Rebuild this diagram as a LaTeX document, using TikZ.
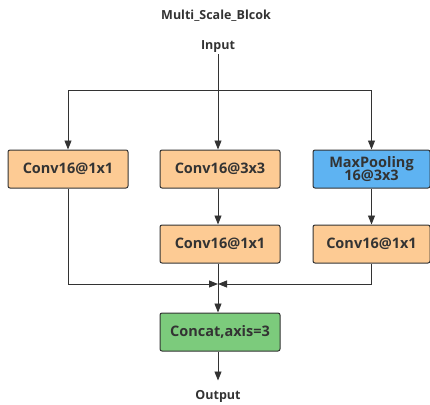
\documentclass[tikz,border=0pt]{standalone}
\usepackage{fontspec}
\setmainfont{Open Sans}
\usetikzlibrary{arrows.meta}
\definecolor{txt}{HTML}{333333}
\definecolor{orangef}{HTML}{FDCB94}
\definecolor{bluef}{HTML}{5EB3F2}
\definecolor{greenf}{HTML}{7CCB7C}
\tikzset{
  blk/.style={draw=txt, line width=1pt, rounded corners=2pt, minimum width=120pt, minimum height=38pt, inner sep=0pt, text=txt, font=\fontsize{14.5}{15.5}\selectfont\bfseries, align=center},
  conv/.style={blk, fill=orangef},
  pool/.style={blk, fill=bluef},
  cat/.style={blk, fill=greenf},
  lbl/.style={text=txt, font=\fontsize{12.5}{14}\selectfont\bfseries, inner sep=1pt},
  wire/.style={draw=txt, line width=0.9pt},
  arr/.style={wire, -{Triangle[length=9pt,width=7pt]}}
}
\begin{document}
\begin{tikzpicture}[x=1pt,y=-1pt]
\useasboundingbox (0,0) rectangle (430,404);
\node[lbl] (title) at (216,16) {Multi\_Scale\_Blcok};
\node[lbl] (input) at (218,47) {Input};
\node[conv] (c1) at (68,169) {Conv16@1x1};
\node[conv] (c2) at (220,169) {Conv16@3x3};
\node[pool, minimum width=117pt] (p3) at (371.5,169) {MaxPooling\\[-2pt]16@3x3};
\node[conv] (c4) at (220,244) {Conv16@1x1};
\node[conv, minimum width=117pt] (c5) at (371.5,244) {Conv16@1x1};
\node[cat] (cat) at (220,332) {Concat,axis=3};
\node[lbl] (output) at (218,396) {Output};
\coordinate (split) at (218,90);
\coordinate (join) at (218,284);
\draw[wire] (input.south) -- (split);
\draw[arr] (split) -| (c1.north);
\draw[arr] (split) -- (c2.north -| split);
\draw[arr] (split) -| (p3.north);
\draw[arr] (c2.south -| split) -- (c4.north -| split);
\draw[arr] (p3.south) -- (c5.north);
\draw[arr] (c1.south) |- (join);
\draw[arr] (c5.south) |- (join);
\draw[arr] (c4.south -| join) -- (cat.north -| join);
\draw[arr] (cat.south -| join) -- ++(0,29) coordinate (outtip);
\end{tikzpicture}
\end{document}
